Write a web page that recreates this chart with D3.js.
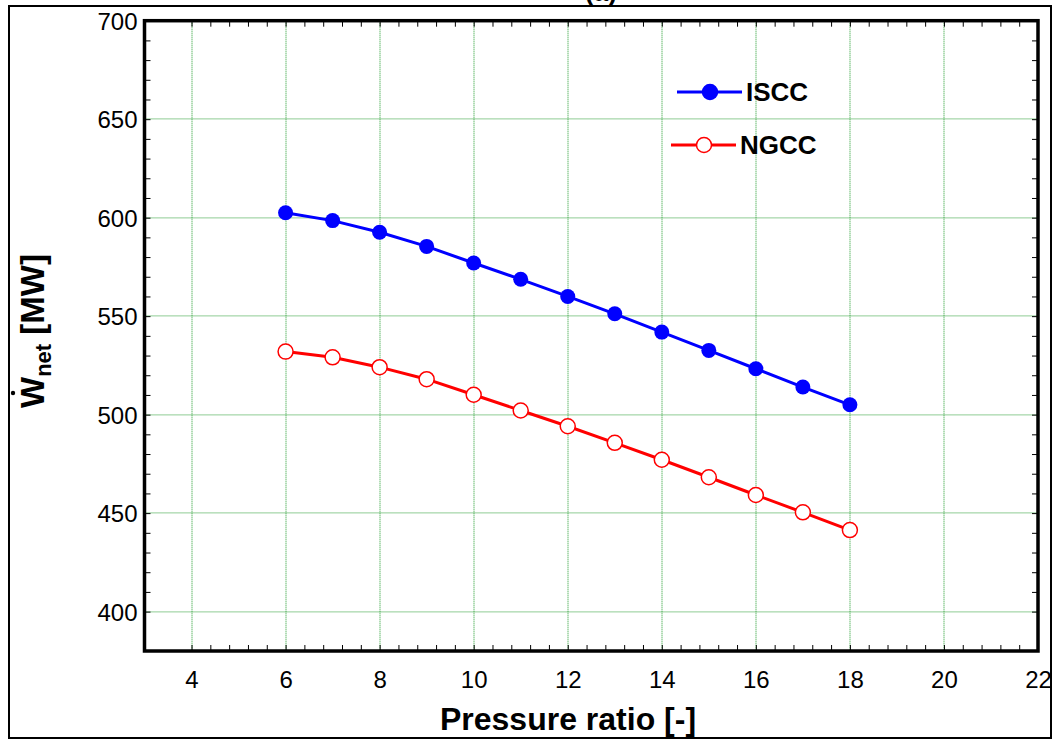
<!DOCTYPE html>
<html>
<head>
<meta charset="utf-8">
<script src="https://cdn.jsdelivr.net/npm/d3@7"></script>
<style>
  body { margin: 0; background: #fff; }
  svg { display: block; font-family: "Liberation Sans", Arial, sans-serif; }
  .tick text { font-size: 24px; fill: #000; }
  .axis path, .axis line { stroke: #000; }
</style>
</head>
<body>
<svg id="canvas"></svg>
<script>
var pressureRatio = [6, 7, 8, 9, 10, 11, 12, 13, 14, 15, 16, 17, 18];
var iscc = [602.5, 598.5, 592.6, 585.4, 577.0, 568.7, 560.0, 551.2, 541.9, 532.6, 523.3, 514.0, 505.0];
var ngcc = [532.0, 529.1, 524.1, 518.0, 510.1, 502.1, 494.1, 485.7, 477.1, 468.2, 459.2, 450.4, 441.4];
var xTicks = [4, 6, 8, 10, 12, 14, 16, 18, 20, 22];
var yTicks = [400, 450, 500, 550, 600, 650, 700];
var seriesNames = ["ISCC", "NGCC"];

var W = 1054, H = 740;
var margin = {top: 20.7, right: 16, bottom: 89, left: 144.5};
var width = W - margin.left - margin.right;
var height = H - margin.top - margin.bottom;

var svg = d3.select("#canvas").attr("width", W).attr("height", H);

// outer frame
svg.append("rect").attr("x", 9).attr("y", 6).attr("width", 1042).attr("height", 732)
  .attr("fill", "none").attr("stroke", "#000").attr("stroke-width", 2);

// panel label, mostly cut off at the top like the reference
svg.append("text").attr("x", 601).attr("y", 1).attr("text-anchor", "middle")
  .style("font-size", "26px").style("font-weight", "bold").text("(a)");

var g = svg.append("g").attr("transform", "translate(" + margin.left + "," + margin.top + ")");

var x = d3.scaleLinear().domain([3, 22]).range([0, width]);
var y = d3.scaleLinear().domain([380, 700]).range([height, 0]);

// grid
g.selectAll(".vgrid").data(xTicks.filter(function(d) { return d < 22; }))
  .enter().append("line").attr("class", "vgrid")
  .attr("x1", function(d) { return Math.round(x(d)) + 0.5; }).attr("x2", function(d) { return Math.round(x(d)) + 0.5; })
  .attr("y1", 0).attr("y2", height)
  .attr("stroke", "#1f9a2a").attr("stroke-width", 1).attr("stroke-dasharray", "1,1");
g.selectAll(".hgrid").data(yTicks.filter(function(d) { return d < 700; }))
  .enter().append("line").attr("class", "hgrid")
  .attr("y1", function(d) { return Math.round(y(d)) + 0.2; }).attr("y2", function(d) { return Math.round(y(d)) + 0.2; })
  .attr("x1", 0).attr("x2", width)
  .attr("stroke", "#1f9a2a").attr("stroke-width", 1).attr("stroke-dasharray", "1,1");

// minor ticks
var xMinor = d3.range(4, 22.001, 0.4);
var yMinor = d3.range(400, 700.001, 10);

g.append("g").attr("class", "axis").attr("transform", "translate(0," + height + ")")
  .call(d3.axisBottom(x).tickValues(xMinor).tickSize(-6).tickFormat(""));
g.append("g").attr("class", "axis")
  .call(d3.axisTop(x).tickValues(xMinor).tickSize(-6).tickFormat(""));
g.append("g").attr("class", "axis")
  .call(d3.axisLeft(y).tickValues(yMinor).tickSize(-6).tickFormat(""));
g.append("g").attr("class", "axis").attr("transform", "translate(" + width + ",0)")
  .call(d3.axisRight(y).tickValues(yMinor).tickSize(-6).tickFormat(""));

// labelled axes
var xAxis = g.append("g").attr("class", "axis").attr("transform", "translate(0," + height + ")")
  .call(d3.axisBottom(x).tickValues(xTicks).tickSize(0).tickFormat(d3.format("d")));
xAxis.select(".domain").remove();
xAxis.selectAll("text").attr("dy", 0).attr("y", 37);

var yAxis = g.append("g").attr("class", "axis")
  .call(d3.axisLeft(y).tickValues(yTicks).tickSize(0).tickPadding(7).tickFormat(d3.format("d")));
yAxis.select(".domain").remove();
yAxis.selectAll("text").attr("dy", "0.36em");

// frame
g.append("rect").attr("width", width).attr("height", height)
  .attr("fill", "none").attr("stroke", "#000").attr("stroke-width", 3.5);

// series
var line = d3.line().x(function(d) { return x(d[0]); }).y(function(d) { return y(d[1]); });
var isccPts = d3.zip(pressureRatio, iscc);
var ngccPts = d3.zip(pressureRatio, ngcc);

g.append("path").datum(isccPts).attr("d", line).attr("fill", "none")
  .attr("stroke", "#0000ff").attr("stroke-width", 3);
g.selectAll(".isccDot").data(isccPts).enter().append("circle").attr("class", "isccDot")
  .attr("cx", function(d) { return x(d[0]); }).attr("cy", function(d) { return y(d[1]); })
  .attr("r", 7.5).attr("fill", "#0000ff");

g.append("path").datum(ngccPts).attr("d", line).attr("fill", "none")
  .attr("stroke", "#ff0000").attr("stroke-width", 3);
g.selectAll(".ngccDot").data(ngccPts).enter().append("circle").attr("class", "ngccDot")
  .attr("cx", function(d) { return x(d[0]); }).attr("cy", function(d) { return y(d[1]); })
  .attr("r", 7.5).attr("fill", "#fff").attr("stroke", "#ff0000").attr("stroke-width", 1.5);

// legend
var leg = [
  {name: seriesNames[0], x1: 677, x2: 742, cx: 710, y: 92, tx: 746, color: "#0000ff", fill: "#0000ff"},
  {name: seriesNames[1], x1: 671, x2: 736, cx: 704, y: 145, tx: 740, color: "#ff0000", fill: "#fff"}
];
leg.forEach(function(l) {
  svg.append("line").attr("x1", l.x1).attr("x2", l.x2).attr("y1", l.y).attr("y2", l.y)
    .attr("stroke", l.color).attr("stroke-width", 3);
  svg.append("circle").attr("cx", l.cx).attr("cy", l.y).attr("r", 7.5)
    .attr("fill", l.fill).attr("stroke", l.color).attr("stroke-width", 1.5);
  svg.append("text").attr("x", l.tx).attr("y", l.y + 9).style("font-size", "26px")
    .style("font-weight", "bold").text(l.name);
});

// x title
svg.append("text").attr("x", 568).attr("y", 730).attr("text-anchor", "middle")
  .style("font-size", "32px").style("font-weight", "bold").text("Pressure ratio [-]");

// y title
var yt = svg.append("text").attr("transform", "translate(44,408) rotate(-90)")
  .style("font-size", "33px").style("font-weight", "bold");
yt.append("tspan").text("W");
yt.append("tspan").attr("dy", 7).style("font-size", "22px").text("net");
yt.append("tspan").attr("dy", -7).text(" [MW]");
svg.append("circle").attr("cx", 13).attr("cy", 393).attr("r", 2.2).attr("fill", "#000");
</script>
</body>
</html>
